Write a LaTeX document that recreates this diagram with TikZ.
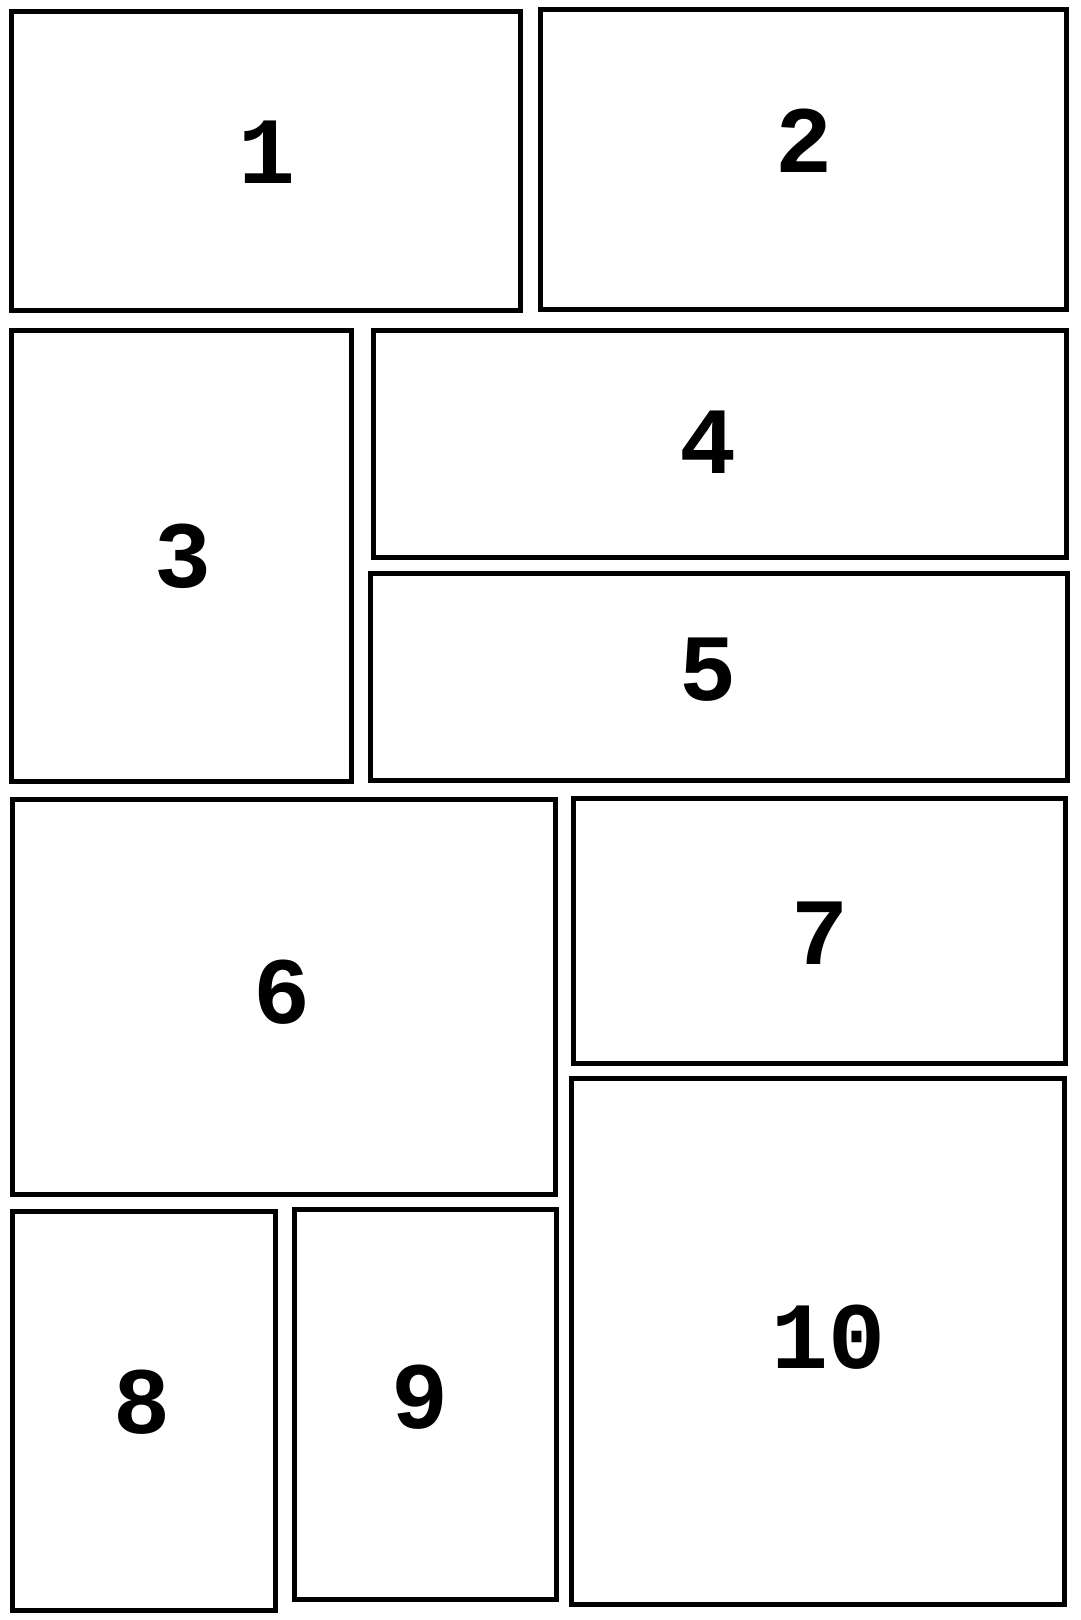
\documentclass[tikz,border=0pt]{standalone}
\usepackage{fontspec}
\setmonofont{Liberation Mono}
\usepackage{tikz}
\usetikzlibrary{positioning}

\begin{document}
\begin{tikzpicture}[
  x=0.5pt, y=-0.5pt,
  panel/.style={rectangle, draw=black, line width=2.5pt, inner sep=0pt},
  num/.style={font=\ttfamily\bfseries\fontsize{47.5}{47.5}\selectfont, inner sep=0pt}
]
\useasboundingbox (0,0) rectangle (1080,1620);

\node[panel, minimum width=254.5pt, minimum height=149.4pt] (p1) at (266,161.2) {};
\node[panel, minimum width=263pt, minimum height=150.4pt] (p2) at (803.5,159.6) {};
\node[panel, minimum width=170pt, minimum height=225.5pt] (p3) at (181.5,556) {};
\node[panel, minimum width=346.5pt, minimum height=113.5pt] (p4) at (720,444) {};
\node[panel, minimum width=348.5pt, minimum height=103.5pt] (p5) at (719,677) {};
\node[panel, minimum width=271.8pt, minimum height=197.5pt] (p6) at (283.8,997) {};
\node[panel, minimum width=246pt, minimum height=132.8pt] (p7) at (819.5,930.8) {};
\node[panel, minimum width=131.5pt, minimum height=199.5pt] (p8) at (144,1411) {};
\node[panel, minimum width=131pt, minimum height=195pt] (p9) at (425,1404.5) {};
\node[panel, minimum width=246.5pt, minimum height=263.3pt] (p10) at (818,1341.3) {};

\node[num] (l1) at (266.7,152) {1};
\node[num] (l2) at (804,141) {2};
\node[num] (l3) at (183,556) {3};
\node[num] (l4) at (708,442) {4};
\node[num] (l5) at (708,670) {5};
\node[num] (l6) at (282,992) {6};
\node[num] (l7) at (819.5,933) {7};
\node[num] (l8) at (141.6,1402.5) {8};
\node[num] (l9) at (419.6,1397) {9};
\node[num] (l10) at (828,1337) {10};

\end{tikzpicture}
\end{document}
